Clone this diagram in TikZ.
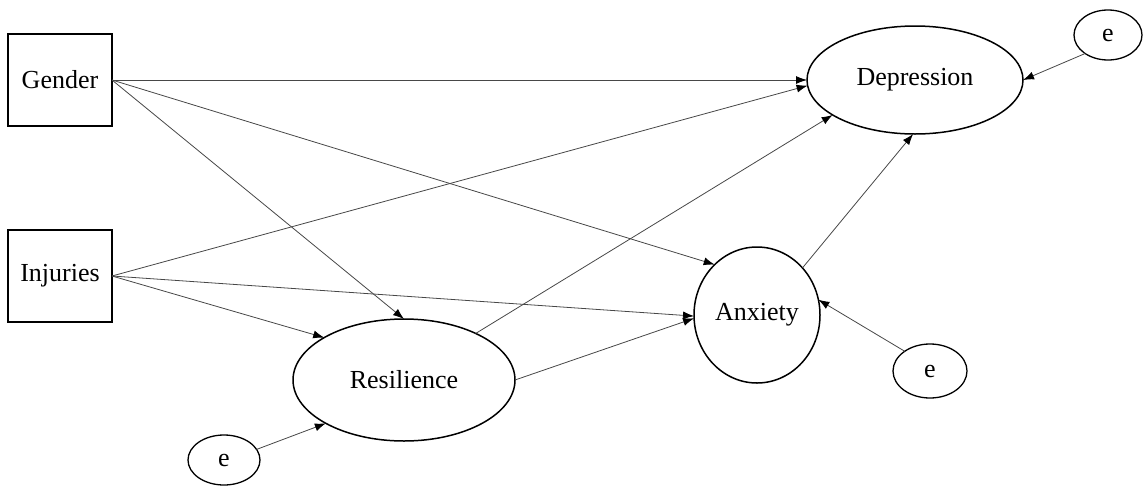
\documentclass[tikz,border=0pt]{standalone}
\usepackage{fontspec}
\setmainfont{Liberation Serif}
\usetikzlibrary{shapes.geometric,arrows.meta}
\begin{document}
\begin{tikzpicture}[x=1pt,y=-1pt,
  every node/.style={font=\fontsize{26}{30}\selectfont},
  obsbox/.style={draw=black,line width=1.2pt,rectangle,inner sep=0pt,outer sep=0pt,minimum width=104pt,minimum height=92pt},
  latent/.style={draw=black,line width=1.5pt,ellipse,inner sep=0pt,outer sep=0pt},
  errnode/.style={draw=black,line width=1.3pt,ellipse,inner sep=0pt,outer sep=0pt},
  path/.style={draw=black!72,line width=0.8pt,-{Latex[length=11pt,width=8pt,black]}}]
\useasboundingbox (0,0) rectangle (1143,485);
\node[obsbox] (gender) at (60,80) {Gender};
\node[obsbox] (injuries) at (60,276) {Injuries};
\node[latent,minimum width=216pt,minimum height=108pt] (dep) at (915,80) {Depression};
\node[latent,minimum width=126pt,minimum height=136pt] (anx) at (757,315) {Anxiety};
\node[latent,minimum width=222pt,minimum height=122pt] (res) at (404,380) {Resilience};
\node[errnode,minimum width=68pt,minimum height=50pt] (e1) at (1108,35) {e};
\node[errnode,minimum width=74pt,minimum height=54pt] (e2) at (930,371) {e};
\node[errnode,minimum width=72pt,minimum height=50pt] (e3) at (224,460) {e};
\draw[path] (gender.east) -- (dep.west);
\draw[path] (gender.east) -- (anx.130);
\draw[path] (gender.east) -- (res.north);
\draw[path] (injuries.east) -- (dep.183);
\draw[path] (injuries.east) -- (anx.181);
\draw[path] (injuries.east) -- (res.152);
\draw[path] (res.33) -- (dep.203);
\draw[path] (res.east) -- (anx.183);
\draw[path] (anx.46) -- (dep.268);
\draw[path] (e1.219) -- (dep.east);
\draw[path] (e2.142) -- (anx.14);
\draw[path] (e3.18) -- (res.209);
\end{tikzpicture}
\end{document}
